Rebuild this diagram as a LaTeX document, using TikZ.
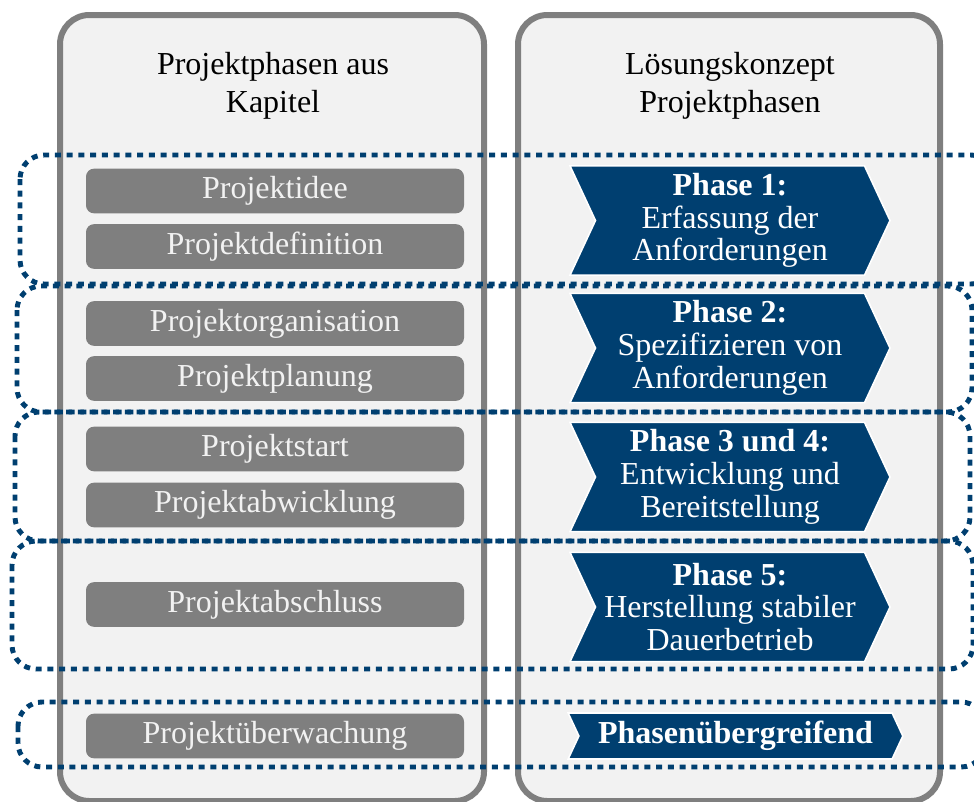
\documentclass[tikz,border=0pt]{standalone}
\usepackage{fontspec}
\setmainfont{Liberation Serif}
\usetikzlibrary{shapes.symbols}
\definecolor{navy}{RGB}{0,63,112}
\definecolor{panelgray}{RGB}{242,242,242}
\definecolor{boxgray}{RGB}{127,127,127}

\begin{document}
\begin{tikzpicture}[
    x=0.75pt, y=-0.75pt,
    panel/.style={draw=boxgray, line width=4.5pt, fill=panelgray, rounded corners=22pt},
    head/.style={align=center, font=\fontsize{24}{28.5}\selectfont},
    phasebox/.style={rectangle, fill=boxgray, rounded corners=6pt, minimum width=283.5pt, minimum height=33.5pt, text=panelgray, font=\fontsize{24}{24}\selectfont},
    chevron/.style={signal, signal to=east, signal from=west, signal pointer angle=130, fill=navy, draw=white, line width=1.2pt, text=white, align=center, minimum width=240pt, minimum height=82pt, inner sep=0pt, font=\fontsize{24}{24.5}\selectfont},
    phasegroup/.style={draw=navy, line width=3.7pt, dash pattern=on 4.5pt off 4.3pt, rounded corners=18pt}
]
\useasboundingbox (0,0) rectangle (974,801);
\clip (0,0) rectangle (974,801);

% Columns
\draw[panel] (60,15) rectangle (484,801);
\draw[panel] (518,15) rectangle (940,801);
\node[head] (headleft) at (273,86) {Projektphasen aus\\Kapitel};
\node[head] (headright) at (730,86) {Lösungskonzept\\Projektphasen};

% Phases from chapter
\node[phasebox] (idee) at (275,191) {Projektidee};
\node[phasebox] (definition) at (275,246.5) {Projektdefinition};
\node[phasebox] (organisation) at (275,323.5) {Projektorganisation};
\node[phasebox] (planung) at (275,378.5) {Projektplanung};
\node[phasebox] (start) at (275,449) {Projektstart};
\node[phasebox] (abwicklung) at (275,505) {Projektabwicklung};
\node[phasebox] (abschluss) at (275,604.5) {Projektabschluss};
\node[phasebox] (ueberwachung) at (275,736) {Projektüberwachung};

% Concept phases
\node[chevron] (phase1) at (730,220.5) {\textbf{Phase 1:}\\Erfassung der\\Anforderungen};
\node[chevron] (phase2) at (730,348) {\textbf{Phase 2:}\\Spezifizieren von\\Anforderungen};
\node[chevron] (phase34) at (730,477) {\textbf{Phase 3 und 4:}\\Entwicklung und\\Bereitstellung};
\node[chevron] (phase5) at (730,607) {\textbf{Phase 5:}\\Herstellung stabiler\\Dauerbetrieb};
\node[chevron, minimum width=251pt, minimum height=34.5pt] (across) at (735.5,736) {\textbf{Phasenübergreifend}};

% Groups (dotted)
\draw[phasegroup] (20,155) rectangle (995,284);
\draw[phasegroup] (17,286) rectangle (972,412);
\draw[phasegroup] (15,412) rectangle (970,541);
\draw[phasegroup] (12,541) rectangle (973,669);
\draw[phasegroup] (18,702) rectangle (985,767);

\end{tikzpicture}
\end{document}
